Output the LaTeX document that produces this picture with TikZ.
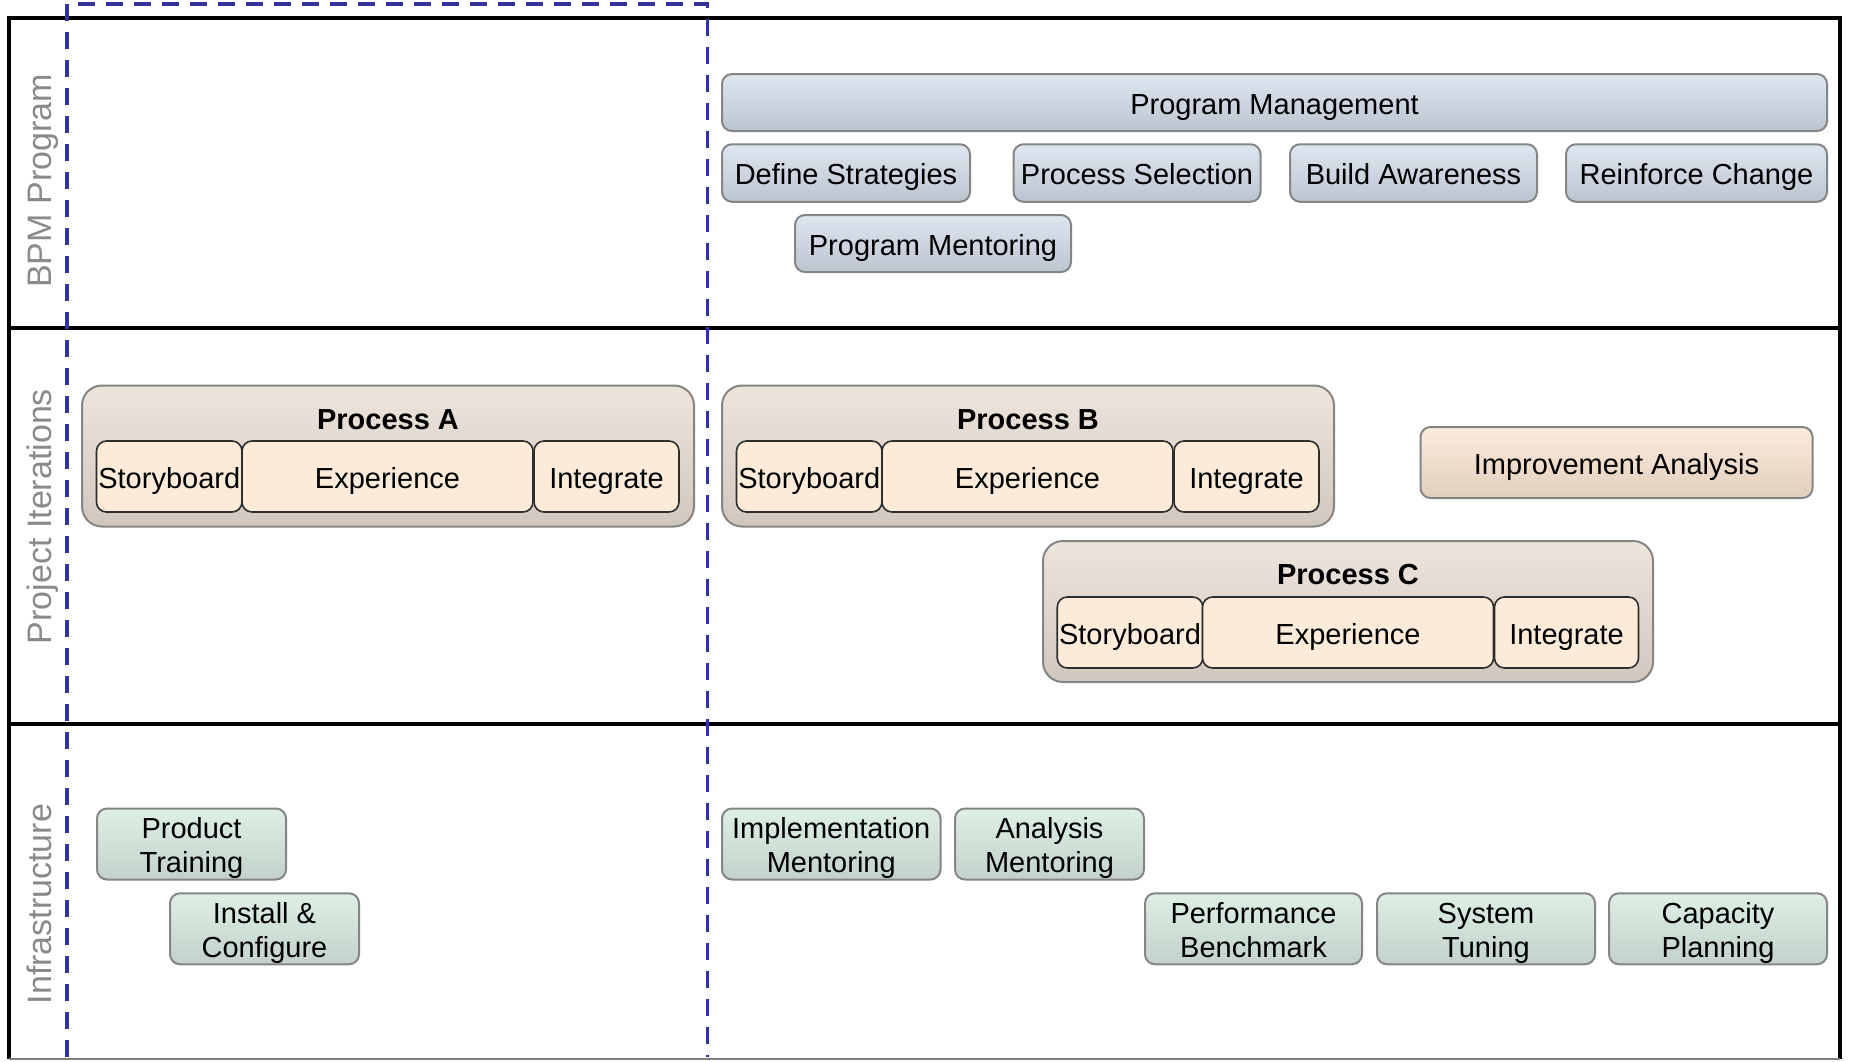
\documentclass[tikz,border=0pt]{standalone}
\usepackage{fontspec}
\setmainfont{Liberation Sans}
\definecolor{laneline}{HTML}{000000}
\definecolor{lanetext}{HTML}{8A8A8A}
\definecolor{phase}{HTML}{333399}
\definecolor{boxedge}{HTML}{858585}
\definecolor{blueTop}{HTML}{DEE7F0}
\definecolor{blueBot}{HTML}{BCC5CF}
\definecolor{procTop}{HTML}{EDE5DC}
\definecolor{procBot}{HTML}{D1C7BE}
\definecolor{stepFill}{HTML}{FDEBD9}
\definecolor{stepEdge}{HTML}{2E2E2E}
\definecolor{impTop}{HTML}{FCECDD}
\definecolor{impBot}{HTML}{E2CEBC}
\definecolor{greenTop}{HTML}{DEEFE6}
\definecolor{greenBot}{HTML}{C2D2CA}
\tikzset{
  txt/.style={font=\fontsize{29}{33.5}\selectfont, align=center, text=black,
    text height=23.2pt, text depth=0pt},
  % two lines: the box height is measured from the last baseline
  twolines/.style={text height=56.7pt, text depth=0pt},
  lanelabel/.style={font=\fontsize{34}{40}\selectfont, text=lanetext, rotate=90,
    inner sep=0, text height=24.4pt, text depth=0pt},
  bluebox/.style={txt, draw=boxedge, line width=2, rounded corners=10,
    top color=blueTop, bottom color=blueBot, inner sep=0},
  procbox/.style={draw=boxedge, line width=2, rounded corners=20,
    top color=procTop, bottom color=procBot, inner sep=0,
    minimum width=612, minimum height=141},
  stagebox/.style={txt, draw=stepEdge, line width=1.6, rounded corners=10,
    fill=stepFill, inner sep=0, minimum height=71},
  impbox/.style={txt, draw=boxedge, line width=2, rounded corners=10,
    top color=impTop, bottom color=impBot, inner sep=0},
  greenbox/.style={txt, twolines, draw=boxedge, line width=2, rounded corners=10,
    top color=greenTop, bottom color=greenBot, inner sep=0,
    minimum height=71},
  title/.style={txt, font=\fontsize{29}{33.5}\selectfont\bfseries, inner sep=0,
    text height=20.8pt},
  phaseline/.style={draw=phase, line width=3.6, dash pattern=on 17pt off 11pt}
}
\begin{document}
\begin{tikzpicture}[x=1pt, y=-1pt]
\useasboundingbox (0,0) rectangle (1849,1061);
\fill[white] (0,0) rectangle (1849,1061);

% swimlane frame
\draw[laneline, line width=3.5] (9,1059) -- (9,18) -- (1840,18) -- (1840,1059);
\draw[laneline, line width=3.5] (9,328) -- (1840,328);
\draw[laneline, line width=3.5] (9,724) -- (1840,724);
\draw[gray, line width=2] (9,1059) -- (1840,1059);

% lane titles
\node[lanelabel] (lbpm)   at (39.5,181)   {BPM Program};
\node[lanelabel] (lproj)  at (39.5,516.5) {Project Iterations};
\node[lanelabel] (linfra) at (39.5,904)   {Infrastructure};

% first phase marker
\coordinate (phBL) at (67,1057);
\coordinate (phTL) at (67,4);
\coordinate (phTR) at (707.5,4);
\coordinate (phBR) at (707.5,1057);
\draw[phaseline] (phBL) -- (phTL) -- (phTR) -- (phBR);

% BPM program lane
\node[bluebox, minimum width=1105, minimum height=57] (pm)  at (1274.5,102.5) {Program Management};
\node[bluebox, minimum width=248, minimum height=57.5] (ds) at (846,173)    {Define Strategies};
\node[bluebox, minimum width=247, minimum height=57.5] (ps) at (1137,173)   {Process Selection};
\node[bluebox, minimum width=247, minimum height=57.5] (ba) at (1413.5,173) {Build Awareness};
\node[bluebox, minimum width=261, minimum height=57.5] (rc) at (1696.5,173) {Reinforce Change};
\node[bluebox, minimum width=276, minimum height=57]   (pmt) at (933,243.5) {Program Mentoring};

% project iterations lane
\node[procbox] (procA) at (388,456) {};
\node[title] (tA) at (388,419.5) {Process A};
\node[stagebox, minimum width=145.5] (sbA) at (169.25,476.5) {Storyboard};
\node[stagebox, minimum width=291]   (exA) at (387.5,476.5)  {Experience};
\node[stagebox, minimum width=145]   (inA) at (606.5,476.5)  {Integrate};

\node[procbox] (procB) at (1028,456) {};
\node[title] (tB) at (1028,419.5) {Process B};
\node[stagebox, minimum width=145.5] (sbB) at (809.25,476.5) {Storyboard};
\node[stagebox, minimum width=291]   (exB) at (1027.5,476.5) {Experience};
\node[stagebox, minimum width=145]   (inB) at (1246.5,476.5) {Integrate};

\node[procbox, minimum width=610] (procC) at (1348,611.5) {};
\node[title] (tC) at (1348,574.5) {Process C};
\node[stagebox, minimum width=145.5] (sbC) at (1130,632.5)   {Storyboard};
\node[stagebox, minimum width=291]   (exC) at (1348,632.5)   {Experience};
\node[stagebox, minimum width=144]   (inC) at (1566.5,632.5) {Integrate};

\node[impbox, minimum width=392, minimum height=71] (imp) at (1616.5,462.5) {Improvement Analysis};

% infrastructure lane
\node[greenbox, minimum width=189]   (pt) at (191.5,844)     {Product\\Training};
\node[greenbox, minimum width=189]   (ic) at (264.5,928.75)  {Install \&\\Configure};
\node[greenbox, minimum width=218.5] (im) at (831.25,844)    {Implementation\\Mentoring};
\node[greenbox, minimum width=189]   (am) at (1049.5,844)    {Analysis\\Mentoring};
\node[greenbox, minimum width=217]   (pb) at (1253.5,928.75) {Performance\\Benchmark};
\node[greenbox, minimum width=218]   (st) at (1486,928.75)   {System\\Tuning};
\node[greenbox, minimum width=218]   (cp) at (1718,928.75)   {Capacity\\Planning};
\end{tikzpicture}
\end{document}
